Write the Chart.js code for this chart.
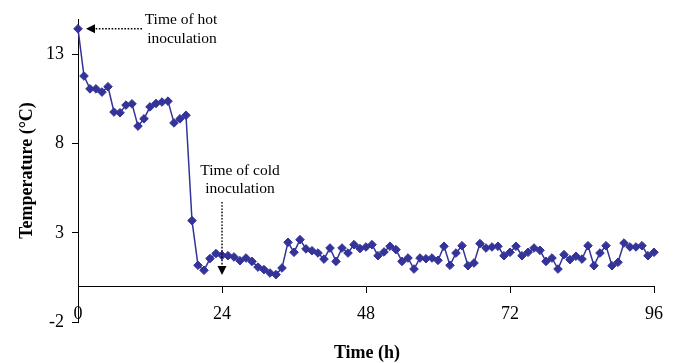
<!DOCTYPE html>
<html>
<head>
<meta charset="utf-8">
<script src="https://cdn.jsdelivr.net/npm/chart.js@4"></script>
<style>
    html, body { margin: 0; padding: 0; background: #ffffff; }
    #wrap { width: 674px; height: 363px; position: relative; }
</style>
</head>
<body>
<div id="wrap"><canvas id="temp-chart"></canvas></div>
<script>
// Temperature readings, one per hour
const hours = [
    0, 1, 2, 3, 4, 5, 6, 7, 8, 9, 10, 11, 12, 13, 14, 15, 16, 17, 18, 19,
    20, 21, 22, 23, 24, 25, 26, 27, 28, 29, 30, 31, 32, 33, 34, 35, 36, 37, 38, 39,
    40, 41, 42, 43, 44, 45, 46, 47, 48, 49, 50, 51, 52, 53, 54, 55, 56, 57, 58, 59,
    60, 61, 62, 63, 64, 65, 66, 67, 68, 69, 70, 71, 72, 73, 74, 75, 76, 77, 78, 79,
    80, 81, 82, 83, 84, 85, 86, 87, 88, 89, 90, 91, 92, 93, 94, 95, 96
];
const temperatures = [
    14.45, 11.8, 11.08, 11.08, 10.9, 11.2, 9.78, 9.74, 10.17, 10.24,
    8.99, 9.4, 10.07, 10.26, 10.34, 10.39, 9.17, 9.4, 9.6, 3.69,
    1.18, 0.9, 1.56, 1.84, 1.74, 1.72, 1.65, 1.44, 1.59, 1.4,
    1.08, 0.94, 0.75, 0.66, 1.03, 2.47, 1.91, 2.62, 2.1, 2.0,
    1.87, 1.53, 2.15, 1.4, 2.15, 1.87, 2.34, 2.12, 2.21, 2.34,
    1.72, 1.93, 2.25, 2.06, 1.4, 1.59, 0.97, 1.59, 1.55, 1.59,
    1.46, 2.25, 1.18, 1.87, 2.28, 1.16, 1.31, 2.4, 2.15, 2.21,
    2.25, 1.72, 1.91, 2.25, 1.72, 1.91, 2.15, 2.02, 1.4, 1.59,
    0.97, 1.78, 1.5, 1.69, 1.53, 2.28, 1.16, 1.87, 2.28, 1.16,
    1.35, 2.43, 2.21, 2.21, 2.28, 1.72, 1.91
];
const xTicks = [0, 24, 48, 72, 96];
const yTicks = [-2, 3, 8, 13];

const xTitle = 'Time (h)';
const hotLabel = ['Time of hot', 'inoculation'];
const coldLabel = ['Time of cold', 'inoculation'];
const coldTime = 24;

const serif = '"Liberation Serif", "Times New Roman", serif';

// dotted arrow helper
function dottedArrow(ctx, x1, y1, x2, y2) {
    const ang = Math.atan2(y2 - y1, x2 - x1);
    const headLen = 9, headHalf = 4.5;
    const bx = x2 - Math.cos(ang) * headLen;
    const by = y2 - Math.sin(ang) * headLen;
    ctx.save();
    ctx.strokeStyle = '#000';
    ctx.lineWidth = 1.4;
    ctx.setLineDash([1.6, 1.6]);
    ctx.beginPath();
    ctx.moveTo(x1, y1);
    ctx.lineTo(bx, by);
    ctx.stroke();
    ctx.setLineDash([]);
    ctx.fillStyle = '#000';
    ctx.beginPath();
    ctx.moveTo(x2, y2);
    ctx.lineTo(bx - Math.sin(ang) * headHalf, by + Math.cos(ang) * headHalf);
    ctx.lineTo(bx + Math.sin(ang) * headHalf, by - Math.cos(ang) * headHalf);
    ctx.closePath();
    ctx.fill();
    ctx.restore();
}

const annotations = {
    id: 'annotations',
    afterDatasetsDraw(chart) {
        const { ctx, chartArea, scales: { x, y } } = chart;
        ctx.save();
        ctx.fillStyle = '#000';
        ctx.textAlign = 'center';
        ctx.textBaseline = 'middle';

        // x axis title sits at the bottom of the canvas
        ctx.font = 'bold 18px ' + serif;
        ctx.fillText(xTitle, (chartArea.left + chartArea.right) / 2 + 1, 353);

        ctx.font = '15.5px ' + serif;
        // hot inoculation, points at the first reading
        const hx = x.getPixelForValue(hours[0]);
        const hy = y.getPixelForValue(temperatures[0]);
        ctx.fillText(hotLabel[0], hx + 103, hy - 9);
        ctx.fillText(hotLabel[1], hx + 104, hy + 10);
        dottedArrow(ctx, hx + 64, hy, hx + 8, hy);

        // cold inoculation, vertical arrow at 24 h
        const cx = x.getPixelForValue(coldTime);
        ctx.fillText(coldLabel[0], cx + 18, 171);
        ctx.fillText(coldLabel[1], cx + 18, 189);
        dottedArrow(ctx, cx, 202, cx, 275);
        ctx.restore();
    }
};

new Chart(document.getElementById('temp-chart'), {
    type: 'line',
    data: {
        datasets: [{
            data: hours.map((h, i) => ({ x: h, y: temperatures[i] })),
            borderColor: '#333399',
            backgroundColor: '#333399',
            borderWidth: 1.5,
            pointStyle: 'rectRot',
            pointRadius: 4.3,
            pointBorderWidth: 1,
            tension: 0,
            clip: false
        }]
    },
    options: {
        responsive: true,
        maintainAspectRatio: false,
        animation: false,
        layout: { padding: { top: 19, right: 20, bottom: 41, left: 0 } },
        plugins: {
            legend: { display: false },
            tooltip: { enabled: false }
        },
        scales: {
            x: {
                type: 'linear',
                min: 0,
                max: 96,
                position: { y: 0 },
                afterBuildTicks: s => { s.ticks = xTicks.map(v => ({ value: v })); },
                grid: { drawOnChartArea: false, drawTicks: true, tickLength: 6, color: '#000' },
                border: { display: true, color: '#000', width: 1 },
                ticks: {
                    color: '#000',
                    padding: 11,
                    maxRotation: 0,
                    font: { family: serif, size: 18 }
                }
            },
            y: {
                min: -2,
                max: 15,
                afterBuildTicks: s => { s.ticks = yTicks.map(v => ({ value: v })); },
                afterFit: s => { s.width = 78; },
                grid: { drawOnChartArea: false, drawTicks: true, tickLength: 6, color: '#000' },
                border: { display: true, color: '#000', width: 1 },
                ticks: {
                    color: '#000',
                    padding: 8,
                    font: { family: serif, size: 18 }
                },
                title: {
                    display: true,
                    text: 'Temperature (°C)',
                    color: '#000',
                    font: { family: serif, size: 18, weight: 'bold' },
                    padding: { top: 17, bottom: 0 }
                }
            }
        }
    },
    plugins: [annotations]
});
</script>
</body>
</html>
